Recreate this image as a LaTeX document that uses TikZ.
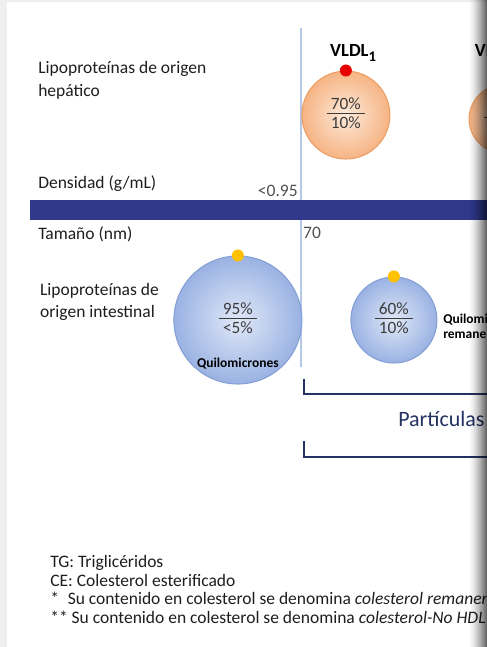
\documentclass[tikz,border=0pt]{standalone}
\usepackage{fontspec}
\setmainfont{Carlito}
\usepackage{xcolor}
\usepackage{tikz}
\usetikzlibrary{positioning}
\definecolor{LPNavy}{RGB}{47,56,138}
\definecolor{LPInk}{RGB}{36,50,98}
\definecolor{LPText}{RGB}{30,30,30}
\definecolor{LPGray}{RGB}{80,80,80}
\definecolor{LPFrac}{RGB}{60,60,60}
\definecolor{LPAxis}{RGB}{180,199,231}
\definecolor{LPPage}{RGB}{239,239,239}
\definecolor{LPOrangeIn}{RGB}{253,234,218}
\definecolor{LPOrangeOut}{RGB}{246,180,132}
\definecolor{LPOrangeLine}{RGB}{236,158,100}
\definecolor{LPBlueIn}{RGB}{224,232,247}
\definecolor{LPBlueOut}{RGB}{154,178,227}
\definecolor{LPBlueLine}{RGB}{132,160,214}
\definecolor{LPYellow}{RGB}{255,192,0}
\definecolor{LPRed}{RGB}{232,0,0}

\newcommand{\pctfrac}[2]{{\setlength{\arrayrulewidth}{1.4pt}%
  \begin{tabular}{@{\hspace{4pt}}c@{\hspace{4pt}}}#1\\[-2pt]\hline\noalign{\vskip 1pt}#2\end{tabular}}}
\newcommand{\vldlname}[1]{VLDL\raisebox{-0.45ex}{\fontsize{14}{14}\selectfont #1}}

\begin{document}
\begin{tikzpicture}[
      lab/.style={font=\fontsize{16.6}{21.5}\selectfont, text=LPText,
                  align=left, inner sep=0pt},
      orb/.style={circle, inner sep=0pt, line width=1pt,
                  font=\fontsize{16.4}{18}\selectfont, text=LPFrac},
      heporb/.style={orb, draw=LPOrangeLine, inner color=LPOrangeIn,
                     outer color=LPOrangeOut},
      intorb/.style={orb, draw=LPBlueLine, inner color=LPBlueIn,
                     outer color=LPBlueOut},
      dot/.style={circle, inner sep=0pt, minimum size=0.4cm},
      tag/.style={font=\fontsize{12.8}{14.5}\selectfont\bfseries, text=black,
                  inner sep=0pt},
      vtag/.style={tag, font=\fontsize{17.6}{19}\selectfont\bfseries},
      brk/.style={draw=LPInk, line width=1.9pt}
    ]
    \useasboundingbox (0,0) rectangle (16.233,21.567);
    \clip (0,0) rectangle (16.233,21.567);
    \fill[LPPage] (0,0) rectangle (16.233,21.567);
    \fill[white] (0.233,0) rectangle (16.233,21.5);

    \draw[LPAxis, line width=1.2pt] (10.03,20.633) -- (10.03,9.333);
    \fill[LPNavy] (1.0,14.233) rectangle (16.233,14.9);

    \node[lab, anchor=west] (hep)  at (1.27,18.9)  {Lipoproteínas de origen\\hepático};
    \node[lab, anchor=west] (dens) at (1.27,15.43) {Densidad (g/mL)};
    \node[lab, anchor=west] (size) at (1.27,13.77) {Tamaño (nm)};
    \node[lab, anchor=west] (int)  at (1.33,11.5)  {Lipoproteínas de\\origen intestinal};
    \node[lab, text=LPGray, anchor=east] (dlim) at (9.93,15.2) {<0.95};
    \node[lab, text=LPGray, anchor=west] (slim) at (10.1,13.8) {70};

    \node[heporb, minimum size=2.933cm] (vldl1) at (11.53,17.733)
          {\pctfrac{70\%}{10\%}};
    \node[heporb, minimum size=2.267cm] (vldl2) at (16.77,17.6)
          {\pctfrac{\phantom{00\%}}{\phantom{00\%}}};
    \node[dot, fill=LPRed] (vldl1dot) at (vldl1.north) {};
    \node[vtag, anchor=west] (vldl1lab) at (11.0,19.8) {\vldlname{1}};
    \node[vtag, anchor=west] (vldl2lab) at (15.82,19.8) {\vldlname{2}};

    \node[intorb, minimum size=4.267cm] (qm) at (7.93,10.9)
          {\pctfrac{95\%}{<5\%}};
    \node[dot, fill=LPYellow] (qmdot) at (qm.north) {};
    \node[tag] (qmlab) at (7.93,9.43) {Quilomicrones};

    \node[intorb, minimum size=2.867cm] (qmr) at (13.13,10.9)
          {\pctfrac{60\%}{10\%}};
    \node[dot, fill=LPYellow] (qmrdot) at (qmr.north) {};
    \node[tag, align=left, anchor=west] (qmrlab) at (14.77,10.7)
          {Quilomicrones\\remanentes};

    \draw[brk] (10.13,8.933) -- (10.13,8.433) -- (16.5,8.433);
    \node[font=\fontsize{20.8}{24}\selectfont, text=LPInk, inner sep=0pt,
          anchor=west] (part) at (13.27,7.6) {Partículas};
    \draw[brk] (10.13,6.867) -- (10.13,6.333) -- (16.5,6.333);

    \node[lab, font=\fontsize{16.6}{17.4}\selectfont, anchor=west] (legend)
          at (1.67,1.917)
          {TG: Triglicéridos\\
           CE: Colesterol esterificado\\
           *\enspace Su contenido en colesterol se denomina \textit{colesterol remanente}\\
           ** Su contenido en colesterol se denomina \textit{colesterol-No HDL}};

    \foreach \i [evaluate=\i as \op using 0.6*((\i+1)/18)^1.5] in {0,...,17}
      \fill[black, opacity=\op] ({15.633+\i/30},0) rectangle ({15.633+(\i+1)/30+0.005},21.567);
  \end{tikzpicture}
\end{document}
